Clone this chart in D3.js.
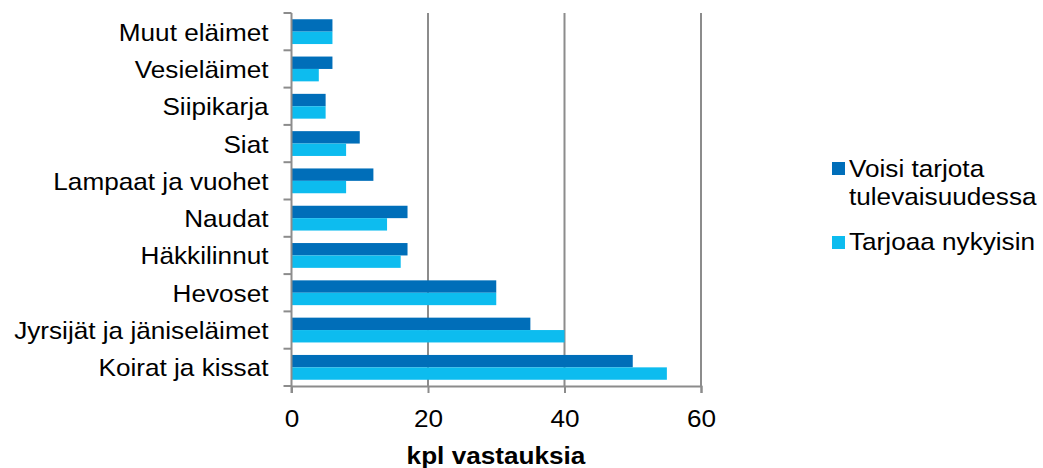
<!DOCTYPE html>
<html><head><meta charset="utf-8">
<script src="https://cdn.jsdelivr.net/npm/d3@7"></script>
<style>body{margin:0;background:#fff;} text{font-family:"Liberation Sans",Arial,sans-serif;fill:#000;}</style>
</head><body><svg id="c" width="1043" height="468"></svg>
<script>
const categories = ["Muut eläimet","Vesieläimet","Siipikarja","Siat","Lampaat ja vuohet","Naudat","Häkkilinnut","Hevoset","Jyrsijät ja jäniseläimet","Koirat ja kissat"];
const future = [6,6,5,10,12,17,17,30,35,50];
const current = [6,4,5,8,8,14,16,30,40,55];
const seriesNames = ["Voisi tarjota tulevaisuudessa","Tarjoaa nykyisin"];
const xTicks = [0,20,40,60];
const colors = ["#006EB9","#0DBCEF"];

const FS = 24, SX = 1.09;
const svg = d3.select("#c");
const x = d3.scaleLinear().domain([0,60]).range([291.5,701]);
const y = d3.scaleBand().domain(categories).range([13,386]).paddingInner(0.335).paddingOuter(0.1675);
const ys = d3.scaleBand().domain([0,1]).range([0,y.bandwidth()]);

// place stretched text
function stext(parent, tx, ty, str, anchor, bold){
  return parent.append("text").attr("transform",`translate(${tx},${ty}) scale(${SX},1)`)
    .attr("text-anchor",anchor||"start").style("font-size",FS+"px")
    .style("font-weight",bold?"bold":"normal").text(str);
}

// gridlines
svg.append("g").selectAll("line").data(xTicks.slice(1)).join("line")
  .attr("x1",d=>x(d)).attr("x2",d=>x(d)).attr("y1",13).attr("y2",386)
  .attr("stroke","#8c8c8c").attr("stroke-width",2);

const data = categories.map((c,i)=>({c,vals:[future[i],current[i]]}));
const g = svg.append("g");
data.forEach(d=>{
  d.vals.forEach((v,j)=>{
    g.append("rect").attr("x",x(0)).attr("y",y(d.c)+ys(j)).attr("width",x(v)-x(0)).attr("height",ys.bandwidth())
     .attr("fill",colors[j]);
  });
});

// x axis
const xa = svg.append("g").attr("transform","translate(0,386)")
  .call(d3.axisBottom(x).tickValues(xTicks).tickSize(7));
xa.select(".domain").attr("stroke","#8c8c8c").attr("stroke-width",2);
xa.selectAll(".tick line").attr("stroke","#8c8c8c").attr("stroke-width",2);
xa.selectAll(".tick text").remove();
xa.selectAll(".tick").each(function(d){ stext(d3.select(this),0,41,d3.format("d")(d),"middle"); });

// y axis
const ya = svg.append("g").attr("transform",`translate(${x(0)},0)`).call(d3.axisLeft(y).tickSize(0));
ya.select(".domain").remove();
ya.selectAll(".tick text").remove();
ya.selectAll(".tick").each(function(d){ stext(d3.select(this),-23,9,d,"end"); });

// category boundary ticks
const bounds = d3.range(categories.length+1).map(i=>13+i*(373/categories.length));
svg.append("g").selectAll("line").data(bounds).join("line")
  .attr("x1",x(0)-8).attr("x2",x(0)).attr("y1",d=>d).attr("y2",d=>d)
  .attr("stroke","#8c8c8c").attr("stroke-width",2);
svg.append("line").attr("x1",x(0)).attr("x2",x(0)).attr("y1",13).attr("y2",393)
  .attr("stroke","#8c8c8c").attr("stroke-width",2);

// x title
stext(svg, 496, 464, "kpl vastauksia", "middle", true);

// legend
const leg = svg.append("g");
leg.append("rect").attr("x",832).attr("y",162).attr("width",13).attr("height",13).attr("fill",colors[0]);
stext(leg,849,176.5,"Voisi tarjota");
stext(leg,849,205,"tulevaisuudessa");
leg.append("rect").attr("x",832).attr("y",236).attr("width",13).attr("height",13).attr("fill",colors[1]);
stext(leg,849,250,"Tarjoaa nykyisin");
</script></body></html>
